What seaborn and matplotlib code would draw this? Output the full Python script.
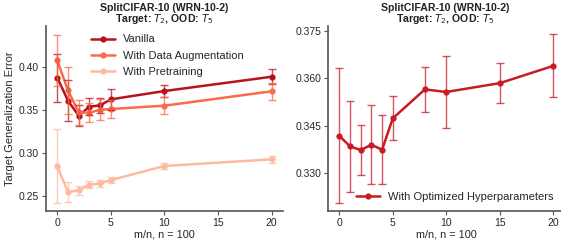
import numpy as np
import pandas as pd
import seaborn as sns
import matplotlib
matplotlib.use("Agg")
import matplotlib.pyplot as plt
from matplotlib import font_manager as fm
import os

# ---- data ----
x_left = [0, 1, 2, 3, 4, 5, 10, 20]
vanilla = [0.388, 0.361, 0.3435, 0.354, 0.3556, 0.3626, 0.3723, 0.389]
vanilla_err = [0.028, 0.024, 0.012, 0.010, 0.009, 0.012, 0.007, 0.009]
aug = [0.408, 0.373, 0.3474, 0.347, 0.3505, 0.3513, 0.3552, 0.372]
aug_err = [0.030, 0.027, 0.015, 0.011, 0.012, 0.010, 0.010, 0.010]
pretrain = [0.2845, 0.2543, 0.2563, 0.2629, 0.2644, 0.2683, 0.2847, 0.2925]
pretrain_err = [0.043, 0.012, 0.005, 0.004, 0.004, 0.003, 0.004, 0.004]

x_right = [0, 1, 2, 3, 4, 5, 8, 10, 15, 20]
opt = [0.3417, 0.3384, 0.3372, 0.3389, 0.3373, 0.3473, 0.3565, 0.3557, 0.3585, 0.364]
opt_err = [0.0215, 0.0145, 0.008, 0.0125, 0.011, 0.007, 0.0072, 0.0114, 0.0063, 0.010]

left_labels = ["Vanilla", "With Data Augmentation", "With Pretraining"]
right_label = "With Optimized Hyperparameters"
title_line1 = "SplitCIFAR-10 (WRN-10-2)"
title_line2 = "Target: $T_2$, OOD: $T_5$"

sns.set_theme(style="ticks")
plt.rcParams['font.family'] = ['Liberation Sans', 'DejaVu Sans']
plt.rcParams['font.size'] = 8

# locate the regular-width Liberation Sans Bold (avoid the Narrow variant)
bold_path = None
for p in fm.findSystemFonts():
    if os.path.basename(p) == "LiberationSans-Bold.ttf":
        bold_path = p
        break
if bold_path:
    fm.fontManager.addfont(bold_path)
    title_fp = fm.FontProperties(fname=bold_path, size=7.6)
else:
    title_fp = fm.FontProperties(family="Liberation Sans", weight="bold", size=7.6)

plt.rcParams['mathtext.fontset'] = 'custom'
plt.rcParams['mathtext.it'] = 'Liberation Sans:italic'
plt.rcParams['mathtext.rm'] = 'Liberation Sans'

colors = ["#b5141d", "#fb6a4a", "#fcbba1"]
right_color = "#c81b24"

fig = plt.figure(figsize=(5.61, 2.44), dpi=100)
ax0 = fig.add_axes([0.082, 0.1365, 0.4219, 0.757])
ax1 = fig.add_axes([0.5848, 0.1365, 0.4210, 0.757])
axes = [ax0, ax1]

ax = ax0
rows = []
for lab, ys in zip(left_labels, [vanilla, aug, pretrain]):
    for xv, yv in zip(x_left, ys):
        rows.append({"x": xv, "y": yv, "series": lab})
df = pd.DataFrame(rows)
sns.lineplot(data=df, x="x", y="y", hue="series", palette=colors, marker="o",
             markersize=4.5, markeredgewidth=0, linewidth=1.8, ax=ax)
for ys, es, c in zip([vanilla, aug, pretrain], [vanilla_err, aug_err, pretrain_err], colors):
    ax.errorbar(x_left, ys, yerr=es, fmt="none", ecolor=c, elinewidth=1.0,
                capsize=3, capthick=1.0, alpha=0.75)
ax.set_xlim(-1.05, 21.03)
ax.set_ylim(0.2325, 0.4483)
ax.set_yticks([0.25, 0.30, 0.35, 0.40])
ax.set_yticklabels(["0.25", "0.30", "0.35", "0.40"])
ax.set_xticks([0, 5, 10, 15, 20])
ax.set_xlabel("m/n, n = 100", fontsize=7.8, labelpad=1)
ax.set_ylabel("Target Generalization Error", fontsize=8, labelpad=3)
ax.legend(loc="upper left", bbox_to_anchor=(0.1715, 0.978), frameon=False,
          fontsize=8, handlelength=2.2, handletextpad=0.65, labelspacing=0.55,
          borderaxespad=0)

ax = ax1
df2 = pd.DataFrame({"x": x_right, "y": opt, "series": right_label})
sns.lineplot(data=df2, x="x", y="y", hue="series", palette=[right_color], marker="o",
             markersize=4.5, markeredgewidth=0, linewidth=1.8, ax=ax)
ax.errorbar(x_right, opt, yerr=opt_err, fmt="none", ecolor=right_color, elinewidth=1.0,
            capsize=3, capthick=1.0, alpha=0.75)
ax.set_xlim(-1.05, 21.03)
ax.set_ylim(0.3179, 0.3767)
ax.set_yticks([0.330, 0.345, 0.360, 0.375])
ax.set_yticklabels(["0.330", "0.345", "0.360", "0.375"])
ax.set_xticks([0, 5, 10, 15, 20])
ax.set_xlabel("m/n, n = 100", fontsize=7.8, labelpad=1)
ax.set_ylabel("")
ax.legend(loc="lower right", bbox_to_anchor=(0.972, 0.025), frameon=False,
          fontsize=8, handlelength=2.2, handletextpad=0.65, borderaxespad=0)

# two-line titles, placed by baseline
for cx in [164.4 / 561, 445.0 / 561]:
    fig.text(cx, 1 - 10.8 / 244, title_line1, fontproperties=title_fp,
             ha="center", va="baseline", color="#222222")
    fig.text(cx, 1 - 22.5 / 244, title_line2, fontproperties=title_fp,
             ha="center", va="baseline", color="#222222")

for a in axes:
    sns.despine(ax=a)
    for s in ["left", "bottom"]:
        a.spines[s].set_color("#555555")
        a.spines[s].set_linewidth(1.2)
    a.tick_params(labelsize=7.5, length=3, width=0.8, color="#555555", pad=2)

fig.savefig("out.png", dpi=100)
